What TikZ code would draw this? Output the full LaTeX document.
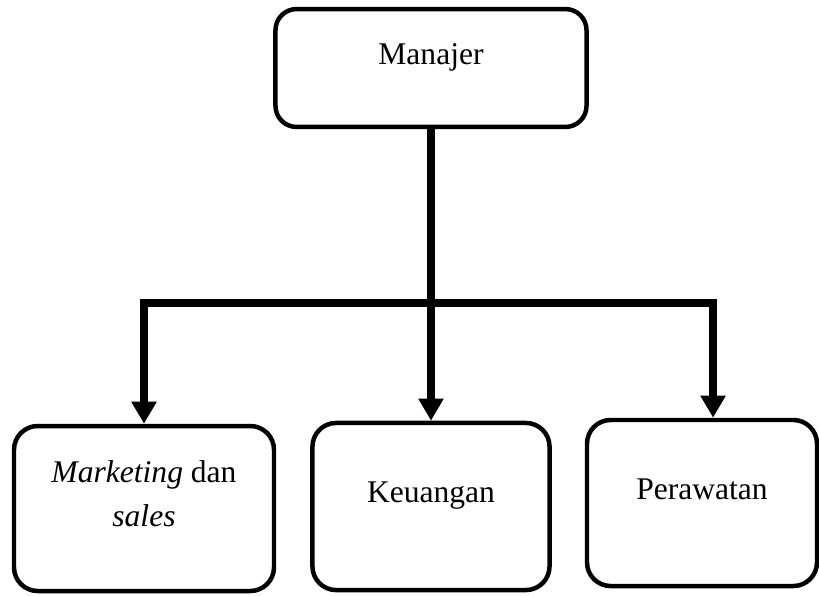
\documentclass[tikz,border=0pt]{standalone}
\usepackage{fontspec}
\setmainfont{Liberation Serif}
\usetikzlibrary{arrows.meta}

\begin{document}
\begin{tikzpicture}[x=0.38pt, y=-0.38pt,
  box/.style={draw, line width=1.7pt, rounded corners=9pt, inner sep=0pt,
    align=center, font=\fontsize{12}{17}\selectfont,
    text height=8pt, text depth=11pt},
  conn/.style={line width=2.85pt, -{Triangle[width=9.1pt, length=8.4pt]}}]
  \useasboundingbox (0,0) rectangle (819,595);

  % Top box
  \node[box, rounded corners=8pt, minimum width=118.2pt, minimum height=44.8pt]
    (manajer) at (431,68) {Manajer};

  % Bottom boxes
  \node[box, minimum width=98.8pt, minimum height=62.7pt, text height=25pt]
    (marketing) at (144,508.5) {\textit{Marketing} dan\\\textit{sales}};
  \node[box, minimum width=90.1pt, minimum height=63.5pt]
    (keuangan) at (431,506.5) {Keuangan};
  \node[box, minimum width=87.4pt, minimum height=63.1pt]
    (perawatan) at (702,503) {Perawatan};

  % Connectors
  \coordinate (bar) at (431,303);
  \draw[conn] (manajer.south) -- (keuangan.north);
  \draw[conn] (bar) -| (marketing.north);
  \draw[conn] (bar) -| ([xshift=4.2pt]perawatan.north);
\end{tikzpicture}
\end{document}
